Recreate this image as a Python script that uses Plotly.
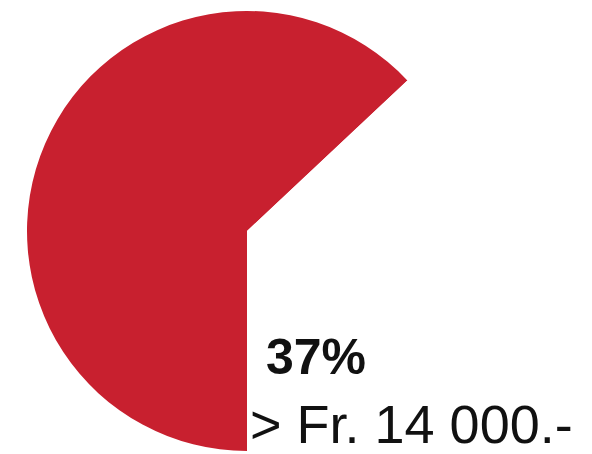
import plotly.graph_objects as go

categories = ["≤ Fr. 14 000.-", "> Fr. 14 000.-"]
shares = [63, 37]
slice_colors = ["#C8202F", "#FFFFFF"]
label_pct = "37%"
label_text = "> Fr. 14 000.-"

fig = go.Figure(go.Pie(
    labels=categories,
    values=shares,
    sort=False,
    direction="clockwise",
    rotation=180,
    marker=dict(colors=slice_colors, line=dict(width=0)),
    textinfo="none",
    hoverinfo="skip",
    showlegend=False,
    domain=dict(x=[19/592, 459/592], y=[11/454, 451/454]),
))

fig.add_annotation(
    text=f"<b>{label_pct}</b>", x=256/592, y=(454-349)/454,
    xref="paper", yref="paper", xanchor="left", yanchor="middle",
    showarrow=False, font=dict(family="Liberation Sans, Arial", size=50, color="#111111"),
)
fig.add_annotation(
    text=label_text, x=240/592, y=(454-416)/454,
    xref="paper", yref="paper", xanchor="left", yanchor="middle",
    showarrow=False, font=dict(family="Liberation Sans, Arial", size=54, color="#111111"),
)

fig.update_layout(
    width=592, height=454,
    margin=dict(l=0, r=0, t=0, b=0),
    paper_bgcolor="white", plot_bgcolor="white",
)
fig.write_html("out.html")
